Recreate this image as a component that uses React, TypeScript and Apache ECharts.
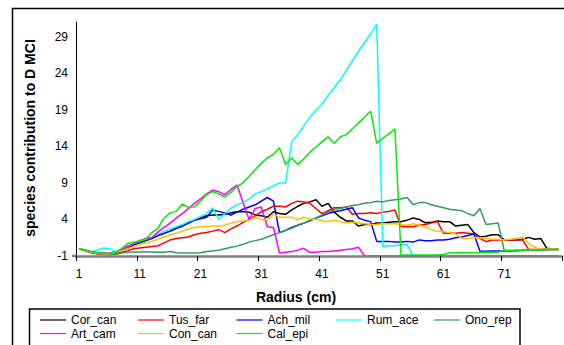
import React, { useEffect, useRef } from "react";
import * as echarts from "echarts";

const radius: string[] = Array.from({ length: 80 }, (_, i) => String(i + 1));

const seriesNames = ["Cor_can", "Tus_far", "Ach_mil", "Rum_ace", "Ono_rep", "Art_cam", "Con_can", "Cal_epi"];
const seriesColors = ["#000000", "#FF0000", "#0000FF", "#00FFFF", "#339966", "#FF00FF", "#FFC000", "#00EE00"];

const corCan = [
  0, -0.2, -0.4, -0.6, -0.6, -0.7, -0.5, -0.2, 0.1, 0.5,
  0.8, 1.1, 1.4, 1.8, 2.1, 2.4, 2.8, 3.1, 3.5, 3.9,
  4.2, 4.5, 4.6, 4.6, 4.7, 4.9, 5.05, 5.05, 5.0, 4.6,
  4.5, 4.3, 5.05, 4.8, 4.7, 5.3, 5.8, 6.2, 6.4, 6.7,
  5.8, 6.2, 5.0, 4.3, 3.8, 3.8, 3.1, 3.3, 3.3, 3.5,
  3.5, 3.6, 3.7, 3.7, 3.9, 4.2, 4.0, 3.55, 3.6, 3.8,
  3.7, 3.7, 3.1, 3.2, 3.3, 2.2, 1.6, 1.7, 1.9, 1.9,
  1.2, 1.2, 1.2, 1.3, 1.55, 1.3, 1.4, 0.05, -0.05, -0.05,
];
const tusFar = [
  0, -0.2, -0.5, -0.7, -0.8, -0.8, -0.7, -0.5, -0.3, 0.0,
  0.1, 0.2, 0.3, 0.4, 0.8, 1.2, 1.4, 1.5, 1.6, 1.9,
  2.1, 2.2, 2.4, 2.6, 2.2, 2.7, 3.1, 3.6, 4.0, 4.5,
  5.05, 5.4, 5.8, 5.8, 5.7, 6.2, 6.5, 6.4, 6.2, 5.5,
  4.8, 5.2, 5.6, 5.6, 5.7, 4.7, 4.8, 4.8, 4.9, 4.8,
  5.0, 5.1, 5.3, 3.0, 3.0, 3.0, 3.2, 3.3, 3.5, 3.7,
  2.1, 2.1, 2.1, 2.2, 2.1, 2.0, 1.4, 0.96, 1.2, 1.2,
  1.2, 1.2, 1.2, 1.2, -0.1, -0.1, -0.1, -0.05, -0.05, -0.05,
];
const achMil = [
  0, -0.2, -0.5, -0.6, -0.7, -0.7, -0.5, -0.1, 0.3, 0.6,
  0.9, 1.2, 1.5, 1.8, 2.1, 2.4, 2.8, 3.1, 3.5, 3.9,
  4.1, 4.3, 5.3, 5.1, 4.9, 4.6, 5.0, 5.4, 5.7, 6.0,
  6.5, 7.0, 6.5, 2.2, 2.5, 2.9, 3.2, 3.5, 3.8, 4.2,
  4.5, 4.8, 5.05, 5.2, 5.4, 5.6, 4.2, 3.9, 3.7, 1.0,
  1.0, 1.0, 0.9, 0.9, 1.0, 0.9, 1.2, 1.1, 1.1, 1.2,
  1.2, 1.3, 1.5, 1.6, 1.8, 2.0, -0.35, -0.35, -0.3, -0.3,
  -0.3, -0.3, -0.25, -0.2, -0.2, -0.15, -0.15, -0.1, -0.1, -0.1,
];
const rumAce = [
  0, -0.2, -0.4, -0.2, 0.1, 0.0, -0.4, -0.1, 0.3, 0.7,
  1.0, 1.3, 1.6, 2.0, 2.4, 2.7, 3.0, 3.3, 3.7, 4.0,
  4.4, 4.8, 5.6, 4.0, 4.8, 5.5, 6.0, 6.3, 6.8, 7.5,
  7.8, 8.2, 8.6, 9.0, 9.0, 14.6, 15.6, 16.8, 18.0, 18.9,
  19.8, 21.0, 22.0, 23.1, 24.4, 25.7, 27.0, 28.2, 29.4, 30.7,
  0.3, 0.4, 0.4, 0.5, 0.6, -1, -1, -1, -1, -1,
  -1, -1, -1, -1, -1, -1, -1, -1, -1, -1,
  -1, -1, -1, -1, -1, -1, -1, -1, -1, -1,
];
const onoRep = [
  0, -0.2, -0.4, -0.6, -0.8, -0.8, -0.8, -0.6, -0.5, -0.45,
  -0.45, -0.45, -0.45, -0.5, -0.5, -0.4, -0.55, -0.6, -0.6, -0.6,
  -0.55, -0.4, -0.3, -0.2, 0.0, 0.2, 0.35, 0.6, 0.9, 1.1,
  1.3, 1.6, 1.9, 2.2, 2.5, 2.8, 3.2, 3.5, 3.9, 4.2,
  4.6, 5.0, 5.4, 5.5, 5.7, 5.9, 6.0, 6.2, 6.3, 6.5,
  6.4, 6.6, 6.7, 6.8, 7.0, 6.0, 6.3, 6.3, 6.0, 5.8,
  5.6, 5.4, 5.3, 5.2, 4.8, 4.5, 5.5, 3.3, 3.4, 3.5,
  -0.3, -0.3, -0.3, -0.25, -0.25, -0.2, -0.2, -0.15, -0.1, -0.1,
];
const artCam = [
  0, -0.3, -0.6, -0.7, -0.7, -0.6, -0.4, -0.1, 0.3, 0.7,
  1.1, 1.4, 1.5, 2.3, 2.9, 3.5, 4.2, 4.8, 5.5, 6.2,
  6.8, 7.5, 8.0, 7.8, 7.4, 8.1, 8.7, 6.3, 4.0, 5.5,
  5.7, 3.0, 2.9, -0.6, -0.5, -0.4, -0.2, 0.05, -0.5, -0.5,
  -0.4, -0.4, -0.3, -0.2, -0.1, 0.0, 0.2, -1, -1, -1,
  -1, -1, -1, -1, -1, -1, -1, -1, -1, -1,
  -1, -1, -1, -1, -1, -1, -1, -1, -1, -1,
  -1, -1, -1, -1, -1, -1, -1, -1, -1, -1,
];
const conCan = [
  0, -0.2, -0.5, -0.6, -0.7, -0.7, -0.5, -0.3, 0.0, 0.3,
  0.6, 0.8, 1.0, 1.3, 1.6, 1.9, 2.1, 2.4, 2.7, 2.9,
  3.0, 3.05, 3.1, 3.1, 3.2, 3.5, 3.7, 3.8, 3.9, 4.3,
  4.0, 3.9, 4.7, 4.3, 4.3, 4.3, 4.0, 4.3, 4.1, 4.0,
  3.9, 3.7, 3.9, 3.7, 3.5, 3.6, 3.5, 3.4, 3.3, 3.3,
  3.4, 3.4, 3.4, 3.3, 3.2, 3.4, 3.2, 3.0, 2.6, 2.4,
  2.3, 2.2, 2.0, 1.4, 1.4, 1.5, 1.5, 1.4, 1.3, 1.3,
  1.2, 1.3, 1.4, 1.6, 0.7, 0.2, -0.1, -0.05, -0.05, -0.05,
];
const calEpi = [
  0, -0.2, -0.4, -0.6, -0.6, -0.7, -0.5, 0.0, 0.7, 0.9,
  1.1, 1.3, 2.2, 2.8, 4.2, 4.9, 5.1, 6.1, 5.65, 5.7,
  6.5, 7.4, 7.8, 7.5, 7.1, 7.7, 8.5, 9.0, 9.9, 10.8,
  11.7, 12.4, 12.9, 13.8, 11.5, 12.4, 11.5, 12.3, 13.2, 13.9,
  14.6, 15.3, 14.4, 15.3, 15.6, 16.4, 17.2, 18.0, 18.8, 14.4,
  15.1, 15.7, 16.4, -0.85, -0.85, -0.85, -0.85, -0.85, -0.85, -0.85,
  -0.8, -0.55, -0.55, -0.55, -0.55, -0.55, -0.5, -0.5, -0.5, -0.5,
  -0.2, -0.2, -0.2, -0.2, -0.15, -0.15, -0.15, -0.1, -0.1, -0.1,
];

const seriesValues = [corCan, tusFar, achMil, rumAce, onoRep, artCam, conCan, calEpi];

const yTitle = "species contribution to D MCI";
const xTitle = "Radius (cm)";

const FONT = '"Liberation Sans", Arial, sans-serif';

export default function App() {
  const ref = useRef<HTMLDivElement>(null);

  useEffect(() => {
    document.body.style.margin = "0";
    const chart = echarts.init(ref.current!, null, { renderer: "svg" });

    const legendSlots = [
      [40, 313], [138, 313], [236.5, 313], [336, 313], [434, 313],
      [40, 326.5], [138, 326.5], [236.5, 326.5],
    ];

    const legends = seriesNames.map((name, i) => ({
      data: [{ name, icon: "rect", itemStyle: { color: seriesColors[i] } }],
      left: legendSlots[i][0],
      top: legendSlots[i][1],
      padding: 0,
      icon: "rect",
      itemWidth: 26,
      itemHeight: 1.2,
      selectedMode: false,
      textStyle: { fontSize: 12, fontFamily: FONT, color: "#000", lineHeight: 14 },
    }));

    chart.setOption({
      animation: false,
      backgroundColor: "#fff",
      grid: { left: 76, right: 2, top: 22, bottom: 89, containLabel: false },
      legend: legends,
      xAxis: {
        type: "category",
        data: radius,
        boundaryGap: true,
        z: 5,
        axisLine: { onZero: false, lineStyle: { color: "#808080", width: 2.5 } },
        axisTick: { show: true, interval: 9, length: 5, lineStyle: { color: "#000", width: 1 } },
        axisLabel: { interval: 9, color: "#000", fontSize: 12, fontFamily: FONT, margin: 12 },
        splitLine: { show: false },
      },
      yAxis: {
        type: "value",
        min: -1,
        max: 31,
        interval: 5,
        axisLine: { show: true, lineStyle: { color: "#000", width: 1 } },
        axisTick: { show: false },
        splitLine: { show: false },
        axisLabel: { color: "#000", fontSize: 12, fontFamily: FONT, margin: 8, showMaxLabel: false },
      },
      series: seriesNames.map((name, i) => ({
        name,
        type: "line",
        data: seriesValues[i],
        symbol: "none",
        color: seriesColors[i],
        lineStyle: { width: 1.5, color: seriesColors[i] },
        itemStyle: { color: seriesColors[i] },
        emphasis: { disabled: true },
      })),
      graphic: [
        {
          type: "rect",
          silent: true,
          z: -10,
          shape: { x: 12.5, y: 8.5, width: 600, height: 400 },
          style: { fill: "transparent", stroke: "#000", lineWidth: 1.5 },
        },
        {
          type: "rect",
          silent: true,
          shape: { x: 29.5, y: 309, width: 490.5, height: 60 },
          style: { fill: "transparent", stroke: "#000", lineWidth: 1.5 },
        },
        {
          type: "line",
          silent: true,
          z: 10,
          shape: { x1: 72, y1: 256, x2: 76, y2: 256 },
          style: { stroke: "#808080", lineWidth: 2.5 },
        },
        {
          type: "text",
          silent: true,
          x: 30,
          y: 138,
          rotation: Math.PI / 2,
          style: {
            text: yTitle,
            font: `bold 14px ${FONT}`,
            fill: "#000",
            align: "center",
            verticalAlign: "middle",
          },
        },
        {
          type: "text",
          silent: true,
          x: 296,
          y: 297,
          style: {
            text: xTitle,
            font: `bold 14px ${FONT}`,
            fill: "#000",
            align: "center",
            verticalAlign: "middle",
          },
        },
      ],
    });

    return () => chart.dispose();
  }, []);

  return <div ref={ref} style={{ width: 564, height: 345 }} />;
}
